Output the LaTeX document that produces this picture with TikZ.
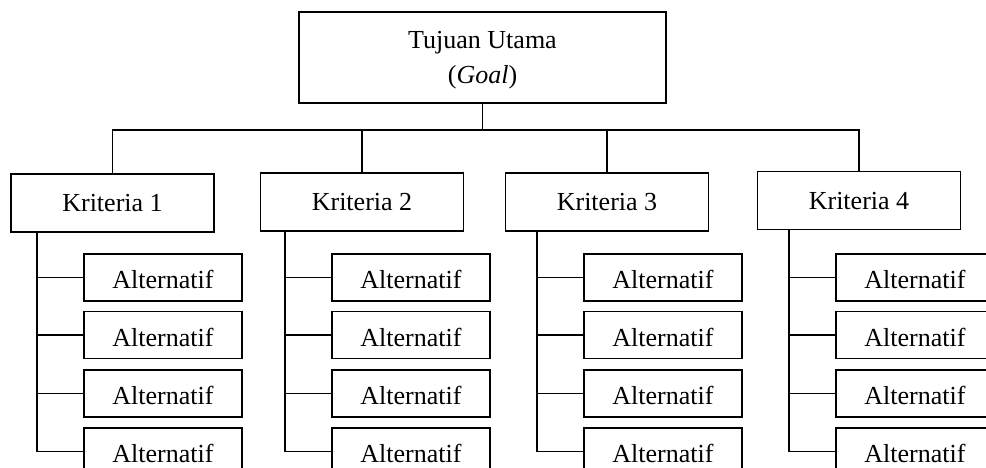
\documentclass[tikz,border=0pt]{standalone}
\usepackage{fontspec}
\setmainfont{Liberation Serif}
\begin{document}
\begin{tikzpicture}[x=1pt,y=-1pt,
  box/.style={draw=black,line width=1.9pt,inner sep=0pt,anchor=center,
    font=\fontsize{26}{35}\selectfont},
  goalbox/.style={box,minimum width=367pt,minimum height=91pt,align=center,text depth=0pt},
  kritbox/.style={box,minimum width=203pt,minimum height=58pt,text height=17pt,text depth=0pt},
  altbox/.style={box,minimum width=158pt,minimum height=47pt,text height=22pt,text depth=0pt},
  link/.style={line width=1.9pt,line cap=rect}]
\useasboundingbox (0,0) rectangle (986,468);
\clip (0,0) rectangle (986,468);
\node[goalbox] (goal) at (482.5,57.5) {Tujuan Utama\\(\textit{Goal})};
\node[kritbox] (k1) at (112.5,203) {Kriteria 1};
\node[kritbox] (k2) at (362,202) {Kriteria 2};
\node[kritbox] (k3) at (607,202) {Kriteria 3};
\node[kritbox] (k4) at (859,200.5) {Kriteria 4};
\coordinate (h) at (482.5,130);
\draw[link] (goal.south) -- (h);
\draw[link] (k1.north |- h) -- (k4.north |- h);
\foreach \k in {1,2,3,4}{\draw[link] (k\k.north) -- (k\k.north |- h);}
\foreach \c/\cx/\vx in {1/163/37,2/411/285,3/663/537,4/915/789}{
  \foreach \r/\cy in {1/277.5,2/335,3/393.5,4/451.5}{
    \node[altbox] (a\c\r) at (\cx,\cy) {Alternatif};
  }
  \coordinate (v\c) at (\vx,0);
  \draw[link] (k\c.south -| v\c) |- (a\c4.west);
  \foreach \r in {1,2,3}{\draw[link] (a\c\r.west) -- (a\c\r.west -| v\c);}
}
\end{tikzpicture}
\end{document}
